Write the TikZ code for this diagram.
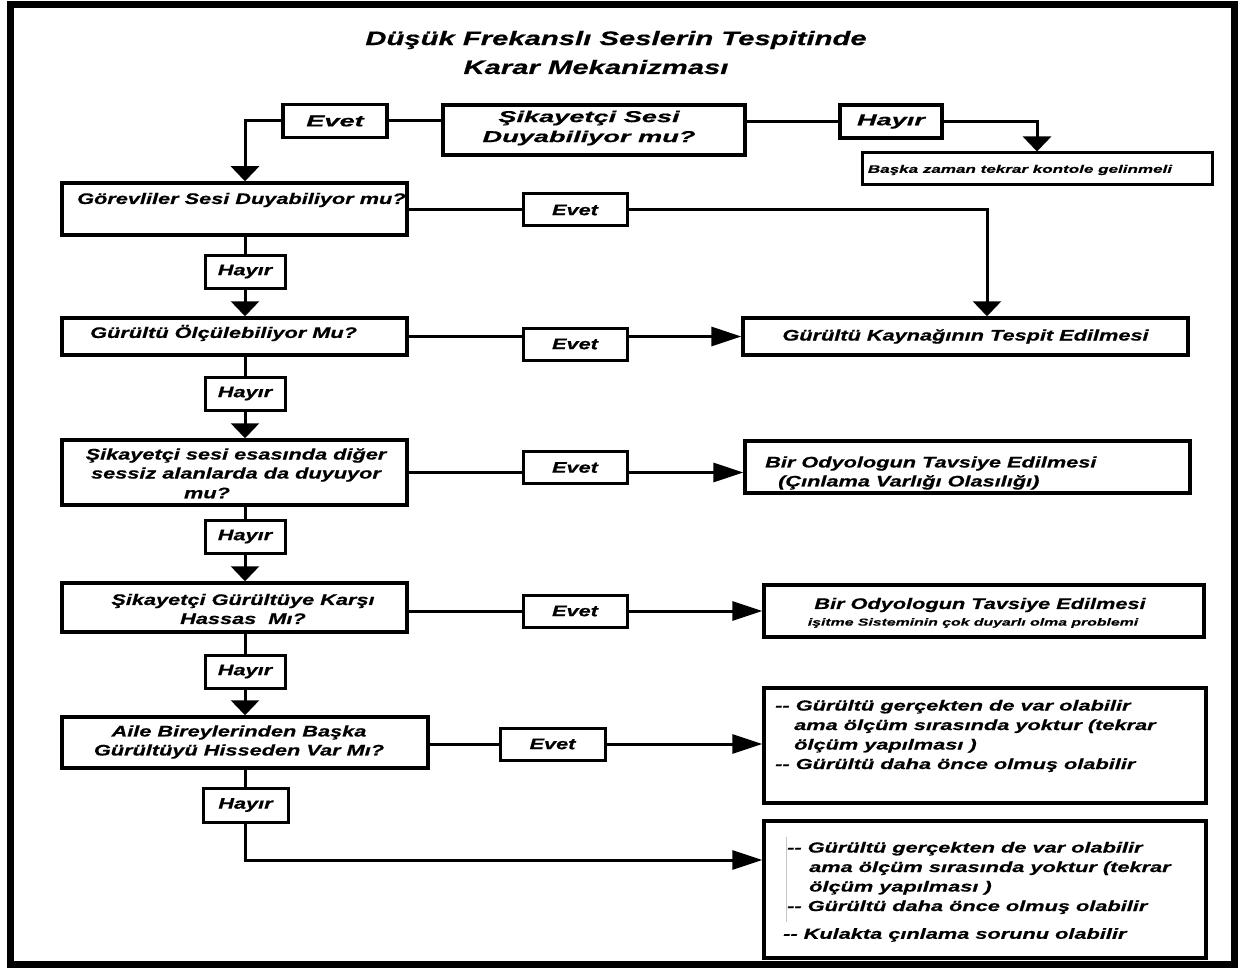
\documentclass[tikz,border=0pt]{standalone}
\usepackage{fontspec}
\setmainfont{Liberation Sans}[FakeStretch=1.42,FakeBold=0.6]
\newfontfamily\fT{Liberation Sans}[FakeStretch=1.5,FakeBold=0.6]
\newfontfamily\fW{Liberation Sans}[FakeStretch=1.72,FakeBold=0.6]
\newfontfamily\fS{Liberation Sans}[FakeStretch=1.55,FakeBold=0.4]
\usetikzlibrary{arrows.meta}
\newcommand\ttlf{\fT\fontsize{19.5}{27}\selectfont\bfseries\itshape}
\newcommand\topf{\fW\fontsize{15.8}{20}\selectfont\bfseries\itshape}
\newcommand\bodyf{\rmfamily\fontsize{15.3}{19}\selectfont\bfseries\itshape}
\newcommand\smlf{\fS\fontsize{11}{13}\selectfont\bfseries\itshape}
\newcommand\tinyf{\fS\fontsize{10.2}{13}\selectfont\bfseries\itshape}
\newcommand\listf{\fT\fontsize{14.5}{19.5}\selectfont\bfseries\itshape}
\begin{document}
\begin{tikzpicture}[x=1pt,y=-1pt,
  box/.style={draw, line width=3.5pt, rectangle, inner sep=0pt},
  lbl/.style={draw, line width=3pt, rectangle, inner sep=0pt, minimum width=80pt, minimum height=33pt, font=\bodyf},
  tlbl/.style={draw, line width=3.5pt, rectangle, inner sep=0pt, minimum height=33pt, font=\topf},
  txt/.style={inner sep=0pt, font=\bodyf},
  con/.style={line width=3pt},
  dn/.style={line width=3pt, -{Triangle[width=28pt,length=15pt]}},
  rt/.style={line width=3pt, -{Triangle[width=19pt,length=30pt]}}]
\useasboundingbox (0,0) rectangle (1238,968);
\fill[white] (0,0) rectangle (1238,968);
\draw[line width=7pt] (10,5) rectangle (1234,964);

% title
\node[inner sep=0pt, font=\ttlf] (t1) at (616,40) {Düşük Frekanslı Seslerin Tespitinde};
\node[inner sep=0pt, font=\ttlf] (t2) at (596,67) {Karar Mekanizması};

% top row
\node[box, minimum width=302pt, minimum height=50pt] (tb) at (594,130) {};
\node[inner sep=0pt, font=\topf, align=center] (tbt) at (589,128) {Şikayetçi Sesi\\Duyabiliyor mu?};
\node[tlbl, minimum width=104pt] (e0) at (335,121) {Evet};
\node[tlbl, minimum width=102pt] (hr) at (891,121.5) {Hayır};
\node[box, line width=3pt, minimum width=350pt, minimum height=32pt] (r0) at (1037,169) {};
\node[inner sep=0pt, font=\smlf] (r0t) at (1020,170) {Başka zaman tekrar kontole gelinmeli};

% left column
\node[box, minimum width=345pt, minimum height=52pt] (b1) at (234.5,209) {};
\node[txt, anchor=west] (b1t) at (77,200) {Görevliler Sesi Duyabiliyor mu?};
\node[lbl] (h1) at (245,271.5) {Hayır};
\node[box, minimum width=345pt, minimum height=37pt] (b2) at (234.5,336.5) {};
\node[txt, anchor=west] (b2t) at (90,333) {Gürültü Ölçülebiliyor Mu?};
\node[lbl] (h2) at (245,393.5) {Hayır};
\node[box, minimum width=345pt, minimum height=65pt] (b3) at (234.5,472.5) {};
\node[txt, align=center] (b3t) at (236,465) {Şikayetçi sesi esasında diğer\\sessiz alanlarda da duyuyor};
\node[txt] (b3u) at (207,493) {mu?};
\node[lbl] (h3) at (245,536.5) {Hayır};
\node[box, minimum width=345pt, minimum height=49pt] (b4) at (234.5,607.5) {};
\node[txt, align=center] (b4t) at (243,609) {Şikayetçi Gürültüye Karşı\\Hassas~~Mı?};
\node[lbl] (h4) at (245,671.5) {Hayır};
\node[box, minimum width=366pt, minimum height=51pt] (b5) at (245,742.5) {};
\node[txt, align=center] (b5t) at (239,742) {Aile Bireylerinden Başka\\Gürültüyü Hisseden Var Mı?};
\node[lbl, minimum width=85pt, minimum height=34pt] (h5) at (245.5,805) {Hayır};

% Evet labels
\node[lbl, minimum width=104pt, minimum height=32pt] (e1) at (575,210) {Evet};
\node[lbl, minimum width=104pt, minimum height=32pt] (e2) at (575,344) {Evet};
\node[lbl, minimum width=104pt, minimum height=32pt] (e3) at (575,467.5) {Evet};
\node[lbl, minimum width=104pt, minimum height=32pt] (e4) at (575,611) {Evet};
\node[lbl, minimum width=105pt, minimum height=32pt] (e5) at (552.5,744) {Evet};

% right boxes
\node[box, minimum width=445pt, minimum height=37pt, font=\bodyf] (r1) at (965.5,336.5) {Gürültü Kaynağının Tespit Edilmesi};
\node[box, minimum width=445pt, minimum height=52pt] (r2) at (967.5,467) {};
\node[txt, anchor=west, align=left] (r2t) at (765,473) {Bir Odyologun Tavsiye Edilmesi\\\hspace*{13pt}(Çınlama Varlığı Olasılığı)};
\node[box, minimum width=440pt, minimum height=52pt] (r3) at (984,611) {};
\node[txt] (r3t) at (980,605) {Bir Odyologun Tavsiye Edilmesi};
\node[inner sep=0pt, font=\tinyf] (r3u) at (973,623) {işitme Sisteminin çok duyarlı olma problemi};
\node[box, minimum width=442pt, minimum height=115pt] (r4) at (985,745.5) {};
\node[inner sep=0pt, font=\listf, anchor=west, align=left] (r4t) at (775,736) {-{}- Gürültü gerçekten de var olabilir\\\hspace*{19pt}ama ölçüm sırasında yoktur (tekrar\\\hspace*{19pt}ölçüm yapılması )\\-{}- Gürültü daha önce olmuş olabilir};
\node[box, minimum width=442pt, minimum height=137pt] (r5) at (985,889.5) {};
\node[inner sep=0pt, font=\listf, anchor=west, align=left] (r5t) at (787,878) {-{}- Gürültü gerçekten de var olabilir\\\hspace*{22pt}ama ölçüm sırasında yoktur (tekrar\\\hspace*{22pt}ölçüm yapılması )\\-{}- Gürültü daha önce olmuş olabilir};
\node[inner sep=0pt, font=\listf, anchor=west] (r5u) at (783,935) {-{}- Kulakta çınlama sorunu olabilir};
\draw[gray!45, line width=0.8pt] (786,837) -- (786,922);

% connectors
\coordinate (j1) at (987,0);
\draw[con] (e0.east) -- (e0.east -| tb.west);
\draw[dn] (e0.west) -| (b1.north -| h1.center);
\draw[con] (tb.east |- hr.center) -- (hr.west);
\draw[dn] (hr.east) -| (r0.north);

\draw[con] (b1.south -| h1.center) -- (h1.north);
\draw[dn] (h1.south) -- (b2.north -| h1.center);
\draw[con] (b2.south -| h2.center) -- (h2.north);
\draw[dn] (h2.south) -- (b3.north -| h2.center);
\draw[con] (b3.south -| h3.center) -- (h3.north);
\draw[dn] (h3.south) -- (b4.north -| h3.center);
\draw[con] (b4.south -| h4.center) -- (h4.north);
\draw[dn] (h4.south) -- (b5.north -| h4.center);
\draw[con] (b5.south -| h5.center) -- (h5.north);
\draw[rt] (h5.south) |- (r5.west |- 0,860);

\draw[con] (b1.east |- e1.center) -- (e1.west);
\draw[dn] (e1.east) -| (r1.north -| j1);
\draw[con] (b2.east) -- (e2.west |- b2.east);
\draw[rt] (e2.east |- b2.east) -- (r1.west |- b2.east);
\draw[con] (b3.east) -- (e3.west |- b3.east);
\draw[rt] (e3.east |- b3.east) -- (r2.west |- b3.east);
\draw[con] (b4.east |- e4.center) -- (e4.west);
\draw[rt] (e4.east) -- (r3.west |- e4.center);
\draw[con] (b5.east |- e5.center) -- (e5.west);
\draw[rt] (e5.east) -- (r4.west |- e5.center);
\end{tikzpicture}
\end{document}
